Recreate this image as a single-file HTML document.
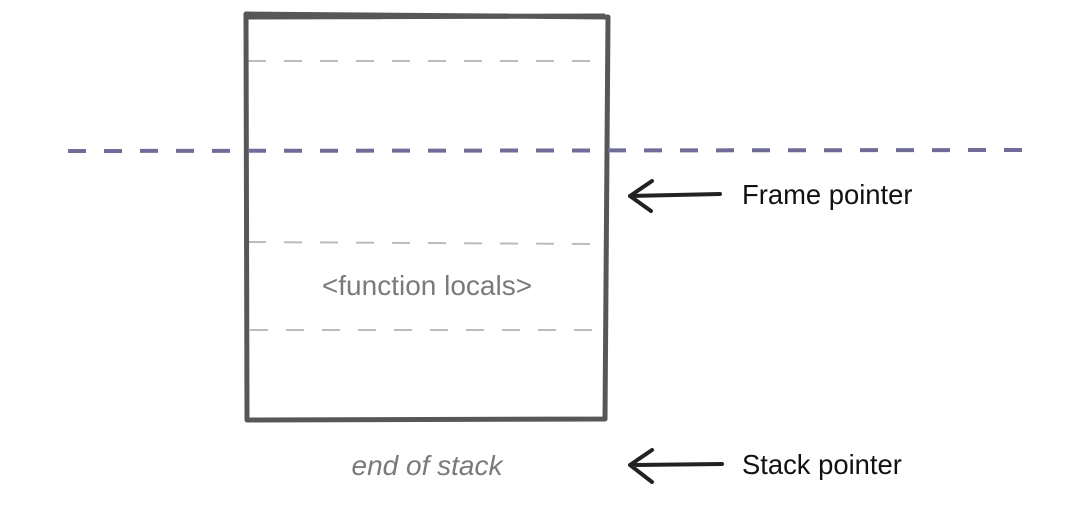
<!DOCTYPE html>
<html><head><style>body{margin:0;background:#fff}svg{display:block}</style></head>
<body>
<svg width="1080" height="520" xmlns="http://www.w3.org/2000/svg" font-family="Liberation Sans, sans-serif">
<rect width="1080" height="520" fill="#fff"/>
<g stroke="#bbb" stroke-width="2" stroke-dasharray="18,18" fill="none">
<line x1="248" y1="61" x2="592" y2="61"/>
<line x1="248" y1="242" x2="592" y2="244"/>
<line x1="250" y1="330" x2="592" y2="330"/>
</g>
<path d="M246,14 L247,420 L605,419 L608,17 Z M246,17 L605,16" fill="none" stroke="#575757" stroke-width="5" stroke-linejoin="round"/>
<line x1="68" y1="151" x2="1022" y2="150" stroke="#6f6d98" stroke-width="4" stroke-dasharray="18,18"/>
<g stroke="#222" stroke-width="4" fill="none" stroke-linecap="round" stroke-linejoin="round">
<path d="M720,194 L630,196 M652,181 L630,196 L651,211"/>
<path d="M722,464 L630,465 M652,450 L630,465 L652,482"/>
</g>
<text x="742" y="204" font-size="27.4" fill="#111">Frame pointer</text>
<text x="742" y="474" font-size="27.4" fill="#111">Stack pointer</text>
<text x="427" y="295" font-size="28" fill="#7a7a7a" text-anchor="middle">&lt;function locals&gt;</text>
<text x="427" y="475" font-size="28" fill="#7a7a7a" text-anchor="middle" font-style="italic">end of stack</text>
</svg>
</body></html>
